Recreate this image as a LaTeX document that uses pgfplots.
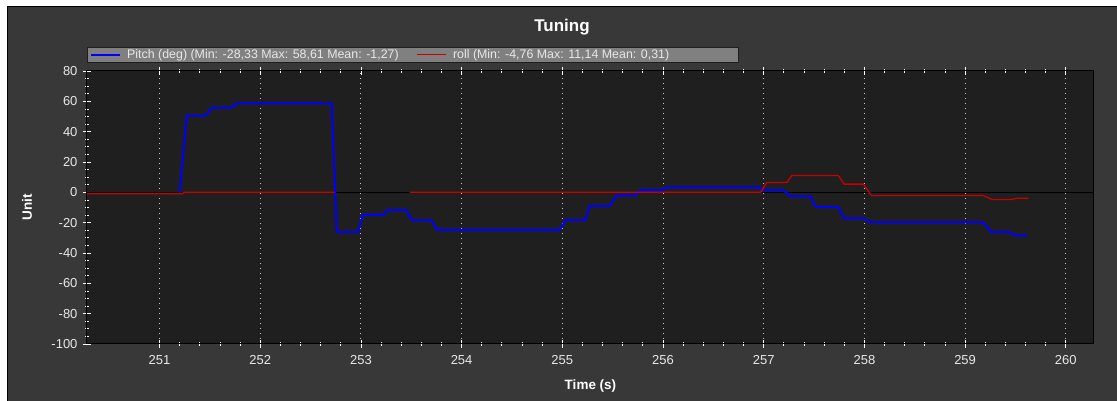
\documentclass[border=0pt]{standalone}
\usepackage{fontspec}
\setmainfont{Liberation Sans}
\usepackage{pgfplots}
\pgfplotsset{compat=1.18}
\definecolor{panel}{RGB}{56,56,56}
\definecolor{plotbg}{RGB}{31,31,31}
\definecolor{legbg}{RGB}{128,128,128}
\definecolor{txt}{RGB}{232,232,232}
\definecolor{gridc}{RGB}{200,200,200}
\definecolor{rollred}{RGB}{200,0,0}
\begin{document}
\begin{tikzpicture}[x=1pt,y=1pt]
\useasboundingbox (0,0) rectangle (1117,401);
\fill[white] (0,0) rectangle (1117,401);
\fill[panel] (7,0) rectangle (1117,394);
\draw[black, line width=1pt] (7,0) -- (7,394) -- (1117,394);
\node[font=\fontsize{17}{19}\selectfont\bfseries, text=white] at (562,374) {Tuning};
\begin{axis}[
  at={(87pt,57pt)}, anchor=south west,
  width=1007pt, height=273pt, scale only axis,
  xmin=250.28, xmax=260.28, ymin=-100, ymax=80,
  axis background/.style={fill=plotbg},
  axis line style={black, line width=1pt},
  xtick={251,252,...,260}, ytick={-100,-80,...,80},
  minor x tick num=4, minor y tick num=3,
  xtick pos=both, ytick pos=left,
  tick align=center,
  major tick length=8pt, minor tick length=4pt,
  every tick/.style={white, line width=0.8pt},
  xmajorgrids, major x grid style={gridc, line width=1pt, dash pattern=on 1pt off 4pt},
  extra y ticks={0}, extra y tick labels={},
  extra y tick style={grid=major, major grid style={black, line width=1pt}, major tick length=0pt},
  tick label style={font=\fontsize{13}{15}\selectfont, text=txt},
  /pgf/number format/assume math mode=true,
  xticklabel style={yshift=-4pt},
  yticklabel style={xshift=-2pt},
  xlabel={Time (s)}, ylabel={Unit},
  label style={font=\fontsize{13.5}{15}\selectfont\bfseries, text=white},
  xlabel style={at={(axis description cs:0.5,-0.1538)}, anchor=center},
  ylabel style={at={(axis description cs:-0.0596,0.5)}, anchor=center},
  unbounded coords=jump,
  legend columns=2,
  legend style={at={(0,1)}, anchor=south west, yshift=9pt, fill=legbg,
    draw={rgb,255:red,30;green,30;blue,30}, text=txt,
    font=\fontsize{12.4}{14}\selectfont, inner xsep=3pt, inner ysep=0pt,
    /tikz/every odd column/.append style={column sep=4pt},
    /tikz/every even column/.append style={column sep=16pt}},
  legend cell align=left,
  legend image code/.code={\draw[#1] (0pt,0pt) -- (29pt,0pt);},
]
\addplot[blue, line width=2pt] coordinates {
(251.20,0) (251.27,50.6) (251.46,50.6) (251.52,55.8) (251.71,55.8) (251.77,58.61)
(252.71,58.61) (252.76,-26) (252.97,-26) (253.02,-14.8) (253.22,-14.8) (253.27,-11.8)
(253.45,-11.8) (253.51,-18.5) (253.70,-18.5) (253.76,-24.8) (254.97,-24.8) (255.04,-18.1)
(255.23,-18.1) (255.27,-8.9) (255.47,-8.9) (255.54,-2.0) (255.73,-2.0) (255.78,1.5)
(255.99,1.5) (256.04,3.3) (256.94,3.3) (257.00,1.5) (257.19,1.5) (257.27,-2.6)
(257.46,-2.6) (257.52,-9.8) (257.74,-9.8) (257.80,-17.2) (257.99,-17.2) (258.06,-19.8)
(259.18,-19.8) (259.26,-26.2) (259.43,-26.2) (259.50,-28.33) (259.62,-28.33)
};
\addlegendentry{Pitch (deg) (Min: -28,33 Max: 58,61 Mean: -1,27)}
\addplot[rollred, line width=1.3pt] coordinates {
(250.20,-1) (251.22,-1) (251.25,0) (252.74,0) (252.75,nan)
(253.49,0) (256.97,0) (257.03,6.5) (257.23,6.5) (257.28,11.14) (257.74,11.14)
(257.80,5.4) (257.99,5.4) (258.07,-2.1) (259.18,-2.1) (259.27,-4.76) (259.46,-4.76)
(259.51,-3.9) (259.63,-3.9)
};
\addlegendentry{roll (Min: -4,76 Max: 11,14 Mean: 0,31)\hspace*{64pt}}
\end{axis}
\end{tikzpicture}
\end{document}
